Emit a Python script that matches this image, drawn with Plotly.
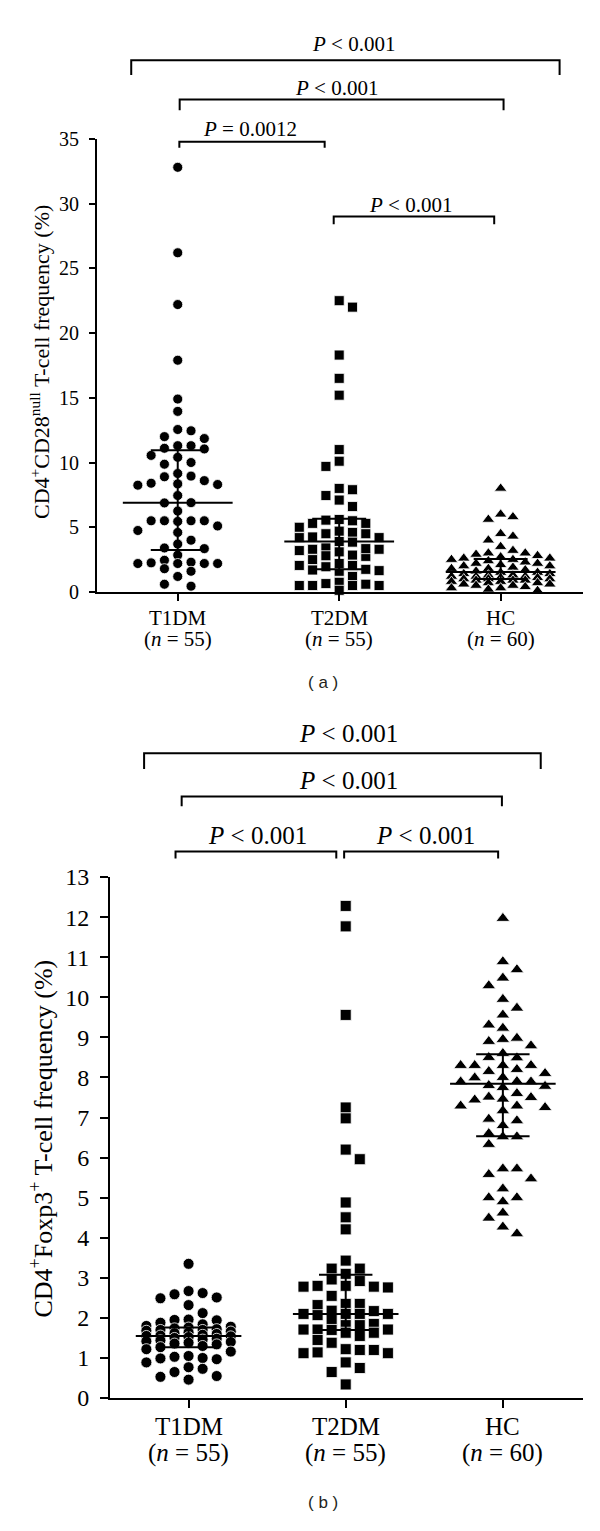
import plotly.graph_objects as go

W, H = 600, 1531

categories = ["T1DM", "T2DM", "HC"]
n_labels = ["(<i>n</i> = 55)", "(<i>n</i> = 55)", "(<i>n</i> = 60)"]

# ---------------- Panel (a): CD4+CD28null T-cell frequency (%) ----------------
a_t1dm = [32.8, 26.2, 22.2, 17.9, 14.9, 13.95, 12.55, 12.45, 12.0, 11.85, 11.3, 11.3, 11.1, 11.05,
          10.55, 10.4, 10.0, 9.87, 9.15, 8.95, 8.9, 8.6, 8.4, 8.3, 8.25, 8.35, 7.45, 6.9, 6.88, 6.25,
          5.5, 5.5, 5.1, 5.5, 5.5, 5.45, 4.6, 4.75, 4.0, 3.7, 3.35, 3.4, 2.85, 2.2, 2.2, 2.25, 2.2,
          2.2, 2.3, 2.45, 1.8, 1.6, 1.2, 0.45, 0.6]
a_t2dm = [22.5, 22.0, 18.3, 16.5, 15.2, 11.0, 10.1, 9.7, 8.0, 7.9, 7.45, 7.1, 6.6,
          4.25, 3.4, 1.95, 0.75,
          5.55, 4.2, 3.3, 1.75, 0.65,
          5.3, 4.6, 3.3, 2.8, 1.6, 0.5, 2.5,
          5.0, 4.5, 3.9, 3.2, 2.75, 2.2, 1.7, 0.5, 0.13, 1.2,
          5.3, 4.7, 3.85, 2.85, 2.05, 0.5,
          5.5, 4.2, 3.1, 1.65, 0.5,
          5.6, 4.5, 3.35, 2.05, 0.6]
a_hc = [8.0, 6.0, 5.8, 5.6, 4.5, 4.3, 4.0, 3.5, 3.2, 3.0, 3.0, 2.9, 2.8, 2.7, 2.6, 2.6, 2.5, 2.5,
        2.4, 2.3, 2.2, 2.2, 2.1, 2.0, 2.0, 1.9, 1.8, 1.8, 1.7, 1.6, 1.5, 1.5, 1.4, 1.4, 1.3, 1.3,
        1.2, 1.2, 1.2, 1.1, 1.1, 1.0, 1.0, 1.0, 0.9, 0.9, 0.9, 0.8, 0.8, 0.7, 0.7, 0.6, 0.6, 0.5,
        0.5, 0.4, 0.3, 0.3, 0.2, 0.1]
a_median = [6.9, 3.9, 1.54]
a_q1 = [3.25, 1.75, 1.0]
a_q3 = [10.95, 5.65, 2.55]
a_yticks = [0, 5, 10, 15, 20, 25, 30, 35]
a_pvals = ["<i>P</i> &lt; 0.001", "<i>P</i> &lt; 0.001", "<i>P</i> = 0.0012", "<i>P</i> &lt; 0.001"]

# ---------------- Panel (b): CD4+Foxp3+ T-cell frequency (%) ----------------
b_t1dm = [3.35, 2.67, 2.62, 2.59, 2.51, 2.49, 2.32, 2.12, 1.96, 1.95, 1.94, 1.88, 1.84, 1.8, 1.78,
          1.76, 1.74, 1.72, 1.7, 1.7, 1.68, 1.66, 1.64, 1.62, 1.6, 1.58, 1.56, 1.55, 1.54, 1.52,
          1.5, 1.48, 1.46, 1.44, 1.42, 1.4, 1.38, 1.36, 1.34, 1.3, 1.27, 1.22, 1.16, 1.05, 1.03,
          1.0, 0.99, 0.97, 0.89, 0.77, 0.73, 0.65, 0.55, 0.53, 0.46]
b_t2dm = [12.28, 11.77, 9.56, 7.25, 6.98, 6.2, 5.96, 4.88, 4.51, 4.21, 3.43, 3.23, 3.23, 3.1, 2.96,
          2.92, 2.8, 2.8, 2.78, 2.78, 2.76, 2.55, 2.35, 2.35, 2.32, 2.18, 2.17, 2.1, 2.1, 2.1,
          2.07, 1.95, 1.85, 1.82, 1.82, 1.71, 1.71, 1.71, 1.7, 1.63, 1.63, 1.55, 1.45, 1.38, 1.22,
          1.2, 1.2, 1.14, 1.12, 1.12, 0.89, 0.75, 0.65, 0.34, 2.1]
b_hc = [11.97, 10.89, 10.69, 10.48, 10.29, 9.95, 9.73, 9.56, 9.31, 9.23, 8.98, 8.95, 8.9, 8.79,
        8.6, 8.5, 8.49, 8.3, 8.3, 8.3, 8.3, 8.2, 8.15, 8.1, 8.0, 7.99, 7.9, 7.89, 7.89, 7.8, 7.78,
        7.75, 7.6, 7.51, 7.5, 7.46, 7.44, 7.29, 7.29, 7.25, 7.17, 6.96, 6.92, 6.8, 6.6, 6.52, 6.52,
        6.33, 5.72, 5.72, 5.58, 5.47, 5.22, 5.0, 5.0, 4.9, 4.62, 4.49, 4.27, 4.1]
b_median = [1.55, 2.10, 7.84]
b_q1 = [1.27, 1.70, 6.53]
b_q3 = [1.76, 3.08, 8.58]
b_yticks = list(range(0, 14))
b_pvals = ["<i>P</i> &lt; 0.001"] * 4


def py(px):
    """pixel row -> paper fraction"""
    return 1 - px / H


def swarm(values, center, slot_w, px_per_unit, dmin, max_slot=3):
    order = sorted(range(len(values)), key=lambda i: -values[i])
    placed = {}
    xs = [0.0] * len(values)
    side = 1
    for i in order:
        ypx = values[i] * px_per_unit
        cands = [0]
        for k in range(1, max_slot + 1):
            cands += [side * k, -side * k]

        def gap(k):
            return min([abs(ypx - y) for y in placed.get(k, [])], default=1e9)

        best = None
        for k in cands:
            if gap(k) >= dmin:
                best = k
                break
        if best is None:
            best = max(cands, key=gap)
        if best != 0:
            side = -1 if best > 0 else 1
        placed.setdefault(best, []).append(ypx)
        xs[i] = center + best * slot_w
    return xs


fig = go.Figure()

symbols = ["circle", "square", "triangle-up"]

# panel a geometry: x px per category 161.5, y px per unit 13.17
a_groups = [a_t1dm, a_t2dm, a_hc]
a_sizes = [10, 10, 11]
a_slot_px = [13.3, 13.3, 12.3]
a_max_slot = [3, 3, 4]
for i, vals in enumerate(a_groups):
    xs = swarm(vals, i, a_slot_px[i] / 161.5, 13.17, 10.5, a_max_slot[i])
    fig.add_trace(go.Scatter(x=xs, y=vals, mode="markers", xaxis="x", yaxis="y",
                             marker=dict(symbol=symbols[i], size=a_sizes[i], color="black",
                                         line=dict(color="white", width=0.8)),
                             cliponaxis=False, showlegend=False, hoverinfo="skip"))

b_groups = [b_t1dm, b_t2dm, b_hc]
b_sizes = [11, 11, 12]
for i, vals in enumerate(b_groups):
    xs = swarm(vals, i, 14.1 / 157.5, 40.77, 11)
    fig.add_trace(go.Scatter(x=xs, y=vals, mode="markers", xaxis="x2", yaxis="y2",
                             marker=dict(symbol=symbols[i], size=b_sizes[i], color="black",
                                         line=dict(color="white", width=0.8)),
                             cliponaxis=False, showlegend=False, hoverinfo="skip"))


def add_summary(med, q1, q3, xa, ya, hw_long, hw_short):
    for i in range(3):
        fig.add_trace(go.Scatter(x=[i - hw_long, i + hw_long], y=[med[i], med[i]], mode="lines",
                                 xaxis=xa, yaxis=ya, line=dict(color="black", width=2),
                                 showlegend=False, hoverinfo="skip", cliponaxis=False))
        for q in (q1[i], q3[i]):
            fig.add_trace(go.Scatter(x=[i - hw_short, i + hw_short], y=[q, q], mode="lines",
                                     xaxis=xa, yaxis=ya, line=dict(color="black", width=2),
                                     showlegend=False, hoverinfo="skip", cliponaxis=False))
        fig.add_trace(go.Scatter(x=[i, i], y=[q1[i], q3[i]], mode="lines",
                                 xaxis=xa, yaxis=ya, line=dict(color="black", width=2),
                                 showlegend=False, hoverinfo="skip", cliponaxis=False))


add_summary(a_median, a_q1, a_q3, "x", "y", 0.34, 0.167)
add_summary(b_median, b_q1, b_q3, "x2", "y2", 0.336, 0.17)

serif = "Liberation Serif"
sans = "Liberation Sans"

shapes = []
annotations = []


def bracket(xref, x0, x1, yline, yleg, text, ytext, xtext, fsize):
    shapes.append(dict(type="path", xref=xref, yref="paper",
                       path=f"M {x0},{py(yleg)} L {x0},{py(yline)} L {x1},{py(yline)} L {x1},{py(yleg)}",
                       line=dict(color="black", width=2)))
    annotations.append(dict(xref=xref, yref="paper", x=xtext, y=py(ytext), text=text,
                            showarrow=False, xanchor="center", yanchor="middle",
                            font=dict(family=serif, size=fsize, color="black")))


# panel a brackets
bracket("x", -0.288, 2.365, 48, 63, a_pvals[0], 32, 1.09, 21)
bracket("x", 0.012, 2.018, 88, 99, a_pvals[1], 76, 0.985, 21)
bracket("x", 0.01, 0.91, 131, 137, a_pvals[2], 118, 0.45, 21)
bracket("x", 0.966, 1.96, 207, 215, a_pvals[3], 195, 1.44, 21)

# panel b brackets
bracket("x2", -0.283, 2.241, 753, 769, b_pvals[0], 733, 1.016, 25)
bracket("x2", -0.044, 1.994, 797, 807, b_pvals[1], 781, 1.016, 25)
bracket("x2", -0.083, 0.94, 853, 860, b_pvals[2], 837, 0.44, 25)
bracket("x2", 0.99, 1.97, 853, 860, b_pvals[3], 837, 1.51, 25)

# category labels
for i, c in enumerate(categories):
    annotations.append(dict(xref="x", yref="paper", x=i, y=py(615), text=c, showarrow=False,
                            xanchor="center", yanchor="middle",
                            font=dict(family=serif, size=21, color="black")))
    annotations.append(dict(xref="x", yref="paper", x=i, y=py(637), text=n_labels[i], showarrow=False,
                            xanchor="center", yanchor="middle",
                            font=dict(family=serif, size=21, color="black")))
    annotations.append(dict(xref="x2", yref="paper", x=i, y=py(1438), text=c, showarrow=False,
                            xanchor="center", yanchor="middle",
                            font=dict(family=serif, size=25, color="black")))
    annotations.append(dict(xref="x2", yref="paper", x=i, y=py(1465), text=n_labels[i], showarrow=False,
                            xanchor="center", yanchor="middle",
                            font=dict(family=serif, size=25, color="black")))

# axis titles
annotations.append(dict(xref="paper", yref="paper", x=40 / W, y=py(355),
                        text="CD4<sup>+</sup>CD28<sup>null</sup> T-cell frequency (%)",
                        textangle=-90, showarrow=False, xanchor="center", yanchor="middle",
                        font=dict(family=serif, size=22, color="black")))
annotations.append(dict(xref="paper", yref="paper", x=42 / W, y=py(1145),
                        text="CD4<sup>+</sup>Foxp3<sup>+</sup> T-cell frequency (%)",
                        textangle=-90, showarrow=False, xanchor="center", yanchor="middle",
                        font=dict(family=serif, size=26, color="black")))

# panel labels
annotations.append(dict(xref="paper", yref="paper", x=323 / W, y=py(681), text="( a )",
                        showarrow=False, xanchor="center", yanchor="middle",
                        font=dict(family=sans, size=17, color="#231f20")))
annotations.append(dict(xref="paper", yref="paper", x=323 / W, y=py(1515), text="( b )",
                        showarrow=False, xanchor="center", yanchor="middle",
                        font=dict(family=sans, size=17, color="#231f20")))

axis_common = dict(showline=True, linewidth=2, linecolor="black", ticks="outside", tickwidth=2,
                   tickcolor="black", showgrid=False, zeroline=False, fixedrange=True)

fig.update_layout(
    width=W, height=H, margin=dict(l=0, r=0, t=0, b=0),
    paper_bgcolor="white", plot_bgcolor="white",
    xaxis=dict(domain=[97 / W, 583 / W], anchor="y", range=[-0.5, 2.51], tickvals=[0, 1, 2],
               showticklabels=False, ticklen=7, **axis_common),
    yaxis=dict(domain=[py(589), py(128)], anchor="x", range=[0, 35], tickvals=a_yticks,
               ticklen=6, ticklabelstandoff=6,
               tickfont=dict(family=serif, size=20, color="black"), **axis_common),
    xaxis2=dict(domain=[110 / W, 583 / W], anchor="y2", range=[-0.5, 2.51], tickvals=[0, 1, 2],
                showticklabels=False, ticklen=8, **axis_common),
    yaxis2=dict(domain=[py(1409), py(879)], anchor="x2", range=[0, 13], tickvals=b_yticks,
                ticklen=8, ticklabelstandoff=6,
                tickfont=dict(family=serif, size=24, color="black"), **axis_common),
    shapes=shapes, annotations=annotations,
)

fig.write_html("out.html", config={"displayModeBar": False},
               post_script="document.body.style.margin='0';document.body.style.overflow='hidden';")
